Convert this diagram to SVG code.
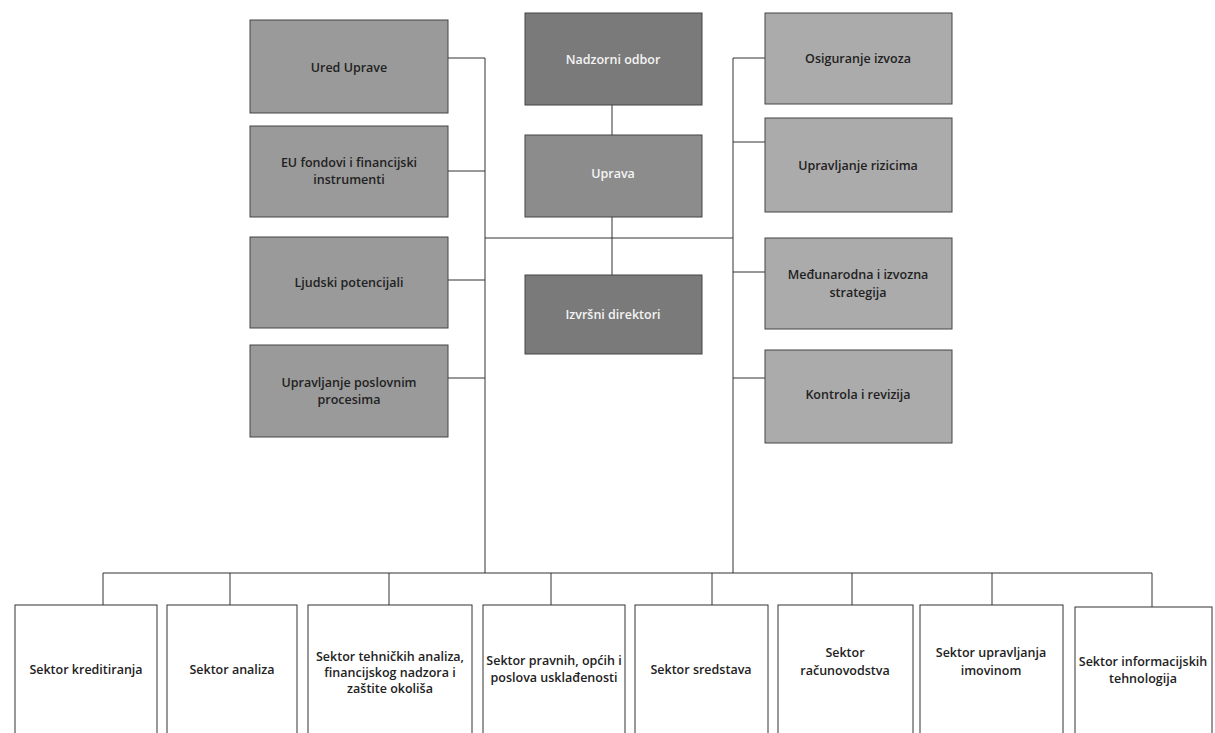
<svg xmlns="http://www.w3.org/2000/svg" width="1215" height="733" viewBox="0 0 1215 733">
<style>
  .dark{fill:#7a7a7a;stroke:#444;stroke-width:1}
  .mid{fill:#8c8c8c;stroke:#444;stroke-width:1}
  .left{fill:#9a9a9a;stroke:#444;stroke-width:1}
  .right{fill:#ababab;stroke:#444;stroke-width:1}
  .low{fill:#ffffff;stroke:#333;stroke-width:1}
  text{font-family:"Open Sans","Liberation Sans",sans-serif;font-size:12.5px;font-weight:600;text-anchor:middle}
  .w{fill:#f4f4f4}
  .k{fill:#222}
  .conn line,.conn polyline{stroke:#333;stroke-width:1;fill:none}
</style>
<g class="conn" id="connectors">
  <line x1="612" y1="105" x2="612" y2="135"/>
  <line x1="612" y1="217" x2="612" y2="275"/>
  <line x1="485" y1="238" x2="733" y2="238"/>
  <polyline points="448,58 485,58 485,573"/>
  <line x1="448" y1="171" x2="485" y2="171"/>
  <line x1="448" y1="280" x2="485" y2="280"/>
  <line x1="448" y1="378" x2="485" y2="378"/>
  <polyline points="765,58 733,58 733,573"/>
  <line x1="733" y1="142" x2="765" y2="142"/>
  <line x1="733" y1="272" x2="765" y2="272"/>
  <line x1="733" y1="378" x2="765" y2="378"/>
  <line x1="103" y1="573" x2="1152" y2="573"/>
  <line x1="103" y1="573" x2="103" y2="605"/>
  <line x1="230" y1="573" x2="230" y2="605"/>
  <line x1="389" y1="573" x2="389" y2="605"/>
  <line x1="551" y1="573" x2="551" y2="605"/>
  <line x1="712" y1="573" x2="712" y2="605"/>
  <line x1="852" y1="573" x2="852" y2="605"/>
  <line x1="992" y1="573" x2="992" y2="605"/>
  <line x1="1152" y1="573" x2="1152" y2="607"/>
</g>
<g id="nadzorni-odbor"><rect class="dark" x="525" y="13" width="177" height="92"/><text class="w" x="613" y="64">Nadzorni odbor</text></g>
<g id="uprava"><rect class="mid" x="525" y="135" width="177" height="82"/><text class="w" x="613" y="178">Uprava</text></g>
<g id="izvrsni-direktori"><rect class="dark" x="525" y="275" width="177" height="79"/><text class="w" x="613" y="319">Izvršni direktori</text></g>

<g id="ured-uprave"><rect class="left" x="250" y="20" width="198" height="93"/><text class="k" x="349" y="72">Ured Uprave</text></g>
<g id="eu-fondovi"><rect class="left" x="250" y="126" width="198" height="91"/><text class="k" x="349" y="167">EU fondovi i financijski</text><text class="k" x="349" y="184">instrumenti</text></g>
<g id="ljudski-potencijali"><rect class="left" x="250" y="237" width="198" height="91"/><text class="k" x="349" y="287">Ljudski potencijali</text></g>
<g id="upravljanje-procesima"><rect class="left" x="250" y="345" width="198" height="92"/><text class="k" x="349" y="387">Upravljanje poslovnim</text><text class="k" x="349" y="404">procesima</text></g>

<g id="osiguranje-izvoza"><rect class="right" x="765" y="13" width="187" height="91"/><text class="k" x="858" y="63">Osiguranje izvoza</text></g>
<g id="upravljanje-rizicima"><rect class="right" x="765" y="118" width="187" height="94"/><text class="k" x="858" y="170">Upravljanje rizicima</text></g>
<g id="medunarodna-strategija"><rect class="right" x="765" y="238" width="187" height="91"/><text class="k" x="858" y="279">Međunarodna i izvozna</text><text class="k" x="858" y="297">strategija</text></g>
<g id="kontrola-revizija"><rect class="right" x="765" y="350" width="187" height="93"/><text class="k" x="858" y="399">Kontrola i revizija</text></g>

<g id="sektor-kreditiranja"><rect class="low" x="15" y="605" width="142" height="140"/><text class="k" x="86" y="674">Sektor kreditiranja</text></g>
<g id="sektor-analiza"><rect class="low" x="167" y="605" width="130" height="140"/><text class="k" x="232" y="674">Sektor analiza</text></g>
<g id="sektor-tehnickih"><rect class="low" x="308" y="605" width="164" height="140"/><text class="k" x="390" y="661">Sektor tehničkih analiza,</text><text class="k" x="390" y="677">financijskog nadzora i</text><text class="k" x="390" y="693">zaštite okoliša</text></g>
<g id="sektor-pravnih"><rect class="low" x="483" y="605" width="142" height="140"/><text class="k" x="554" y="665">Sektor pravnih, općih i</text><text class="k" x="554" y="682">poslova usklađenosti</text></g>
<g id="sektor-sredstava"><rect class="low" x="635" y="605" width="133" height="140"/><text class="k" x="701" y="674">Sektor sredstava</text></g>
<g id="sektor-racunovodstva"><rect class="low" x="778" y="605" width="135" height="140"/><text class="k" x="845" y="657">Sektor</text><text class="k" x="845" y="675">računovodstva</text></g>
<g id="sektor-imovinom"><rect class="low" x="920" y="605" width="143" height="140"/><text class="k" x="991" y="657">Sektor upravljanja</text><text class="k" x="991" y="675">imovinom</text></g>
<g id="sektor-it"><rect class="low" x="1075" y="607" width="137" height="140"/><text class="k" x="1143" y="666">Sektor informacijskih</text><text class="k" x="1143" y="683">tehnologija</text></g>
</svg>
